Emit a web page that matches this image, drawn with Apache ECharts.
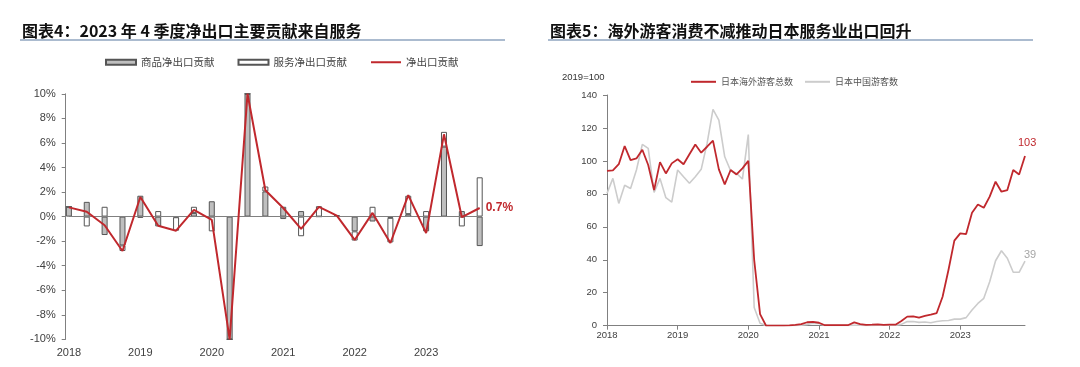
<!DOCTYPE html>
<html>
<head>
<meta charset="utf-8">
<script src="https://cdn.jsdelivr.net/npm/echarts@6/dist/echarts.min.js"></script>
<style>
html,body{margin:0;padding:0;background:#fff;}
#c{width:1080px;height:367px;}
</style>
</head>
<body>
<div id="c"></div>
<script>
// ---------- Chart 4: net export contributions (quarterly, %) ----------
const years = ['2018', '2019', '2020', '2021', '2022', '2023'];
const quarters = [];
years.forEach(y => ['Q1', 'Q2', 'Q3', 'Q4'].forEach(q => quarters.push(y + q)));

const goodsNet    = [0.8, 1.2, -1.5, -2.35, 1.7, -0.8, -0.05, 0.3, 1.25, -10, 10, 2.05,
                     0.8, 0.45, 0, 0.05, -1.2, -0.4, -0.1, 0.2, -1.2, 5.7, 0.45, -2.4];
const servicesNet = [0, -0.8, 0.8, -0.45, -0.1, 0.45, -1.1, 0.5, -1.2, 0, 0, 0.4,
                     -0.2, -1.6, 0.85, 0.05, -0.75, 0.8, -2.0, 1.5, 0.45, 1.2, -0.8, 3.2];
const netExports  = [0.75, 0.4, -0.7, -2.8, 1.6, -0.75, -1.15, 0.55, -0.27, -10, 10, 2.15,
                     0.7, -1.0, 0.8, 0.08, -1.9, 0.3, -2.15, 1.75, -1.35, 6.7, -0.05, 0.7];

// ---------- Chart 5: visitors to Japan (monthly, 2019=100) ----------
const months = [];
years.forEach(y => { for (let m = 1; m <= 12; m++) months.push(y + '-' + (m < 10 ? '0' + m : m)); });

const visitorsTotal = [
  94, 94.3, 98, 109, 100.5, 101.5, 106.8, 97.5, 82.3, 99.3, 92.4, 98.5,
  101, 98, 104, 110, 105, 108.6, 112.3, 94.9, 85.8, 94.5, 91.8, 95.5,
  100, 40, 7, 0.1, 0.1, 0.1, 0.1, 0.2, 0.5, 1.0, 2.1, 2.3,
  1.8, 0.3, 0.4, 0.4, 0.4, 0.4, 2.0, 1.0, 0.5, 0.6, 0.8, 0.5,
  0.7, 0.6, 2.8, 5.5, 5.7, 4.9, 5.9, 6.7, 7.7, 17.6, 33.8, 51.6,
  56, 55.6, 68.6, 73.6, 71.6, 78.3, 87.4, 81.3, 82.3, 94.5, 91.8, 103
];
const visitorsChina = [
  80.3, 89.4, 74.2, 85.2, 83.3, 94.5, 110, 107.6, 80.9, 89.4, 77.7, 75,
  94.5, 90.4, 86.4, 90.4, 94.9, 110.6, 131.3, 124.8, 102.5, 94, 92.4, 89,
  116, 11, 1.5, 0.1, 0.1, 0.1, 0.1, 0.1, 0.1, 0.3, 0.8, 1.5,
  1.3, 0.2, 0.2, 0.2, 0.2, 0.2, 0.3, 0.3, 0.2, 0.2, 0.3, 0.3,
  0.3, 0.3, 0.8, 2.5, 2.5, 2.0, 2.2, 1.8, 2.5, 3.0, 3.2, 4.0,
  4.0, 4.9, 9.5, 13.5, 16.6, 26.7, 39.4, 45.5, 40.9, 32.4, 32.4, 39.2
];

const RED = '#c0282d';
const GRAY_LINE = '#cccccc';
const NUM_FONT = '"Liberation Sans", Arial, sans-serif';
const CJK_FONT = '"Noto Sans CJK SC", sans-serif';
const NO_SYMBOL = { color: 'transparent', borderColor: 'transparent', borderWidth: 0, opacity: 0 };

const chart = echarts.init(document.getElementById('c'), null, { renderer: 'canvas' });

chart.setOption({
  animation: false,
  backgroundColor: '#ffffff',
  graphic: [
    { type: 'text', x: 22, y: 31,
      style: { text: '图表4：2023 年 4 季度净出口主要贡献来自服务', font: 'bold 16px ' + CJK_FONT, fill: '#111', verticalAlign: 'middle' } },
    { type: 'line', shape: { x1: 20, y1: 40, x2: 505, y2: 40 }, style: { stroke: '#abbbcf', lineWidth: 2 } },
    { type: 'text', x: 550, y: 31,
      style: { text: '图表5：海外游客消费不减推动日本服务业出口回升', font: 'bold 16px ' + CJK_FONT, fill: '#111', verticalAlign: 'middle' } },
    { type: 'line', shape: { x1: 548, y1: 40, x2: 1033, y2: 40 }, style: { stroke: '#abbbcf', lineWidth: 2 } },
    { type: 'text', x: 562, y: 77,
      style: { text: '2019=100', font: '9.5px ' + NUM_FONT, fill: '#333', verticalAlign: 'middle' } }
  ],
  legend: [
    {
      left: 105, top: 57, padding: 0, itemWidth: 30, itemHeight: 5, itemGap: 23,
      textStyle: { fontFamily: CJK_FONT, fontSize: 10.5, color: '#444' },
      data: [
        { name: '商品净出口贡献', icon: 'rect' },
        { name: '服务净出口贡献', icon: 'rect' },
        { name: '净出口贡献', itemStyle: NO_SYMBOL }
      ]
    },
    {
      left: 690, top: 77, padding: 0, itemWidth: 25, itemHeight: 12, itemGap: 11,
      textStyle: { fontFamily: CJK_FONT, fontSize: 9, color: '#555' },
      data: [
        { name: '日本海外游客总数', itemStyle: NO_SYMBOL },
        { name: '日本中国游客数', itemStyle: NO_SYMBOL }
      ]
    }
  ],
  grid: [
    { left: 68.9, right: 600.3, top: 93.8, bottom: 27.6 },
    { left: 607, right: 55, top: 95, bottom: 41.3 }
  ],
  xAxis: [
    {
      type: 'category', gridIndex: 0, data: quarters, boundaryGap: false,
      axisLine: { show: false }, axisTick: { show: false },
      axisLabel: {
        interval: (i) => i % 4 === 0, formatter: (v) => v.slice(0, 4),
        fontFamily: NUM_FONT, fontSize: 11, color: '#404040', margin: 8
      },
      splitLine: { show: false }
    },
    {
      type: 'category', gridIndex: 1, data: months, boundaryGap: false,
      axisLine: { show: true, onZero: false, lineStyle: { color: '#808080', width: 1 } },
      axisTick: { show: true, interval: 11, length: 4, lineStyle: { color: '#808080' } },
      axisLabel: {
        interval: 11, formatter: (v) => v.slice(0, 4),
        fontFamily: NUM_FONT, fontSize: 9.5, color: '#404040', margin: 5
      },
      splitLine: { show: false }
    }
  ],
  yAxis: [
    {
      type: 'value', gridIndex: 0, min: -10, max: 10, interval: 2, offset: 3.2,
      axisLine: { show: true, lineStyle: { color: '#808080', width: 1 } },
      axisTick: { show: true, length: 4, lineStyle: { color: '#808080' } },
      axisLabel: { formatter: '{value}%', fontFamily: NUM_FONT, fontSize: 11, color: '#404040', margin: 10 },
      splitLine: { show: false }
    },
    {
      type: 'value', gridIndex: 1, min: 0, max: 140, interval: 20,
      axisLine: { show: true, lineStyle: { color: '#808080', width: 1 } },
      axisTick: { show: true, length: 4, lineStyle: { color: '#808080' } },
      axisLabel: { fontFamily: NUM_FONT, fontSize: 9.5, color: '#404040', margin: 10 },
      splitLine: { show: false }
    }
  ],
  series: [
    {
      name: '商品净出口贡献', type: 'bar', xAxisIndex: 0, yAxisIndex: 0, stack: 'net',
      barWidth: 6, clip: false, data: goodsNet,
      itemStyle: { color: '#bfbfbf', borderColor: '#555', borderWidth: 1 },
      markLine: {
        silent: true, symbol: 'none', label: { show: false },
        lineStyle: { color: '#808080', width: 1, type: 'solid' },
        data: [{ yAxis: 0 }]
      }
    },
    {
      name: '服务净出口贡献', type: 'bar', xAxisIndex: 0, yAxisIndex: 0, stack: 'net',
      barWidth: 6, clip: false, data: servicesNet,
      itemStyle: { color: '#ffffff', borderColor: '#555', borderWidth: 1 }
    },
    {
      name: '净出口贡献', type: 'line', xAxisIndex: 0, yAxisIndex: 0, z: 5,
      symbol: 'none', data: netExports,
      itemStyle: { color: RED }, lineStyle: { color: RED, width: 2 },
      endLabel: {
        show: true, formatter: (p) => p.value.toFixed(1) + '%', distance: 6,
        color: RED, fontWeight: 'bold', fontSize: 12, fontFamily: NUM_FONT
      }
    },
    {
      name: '日本中国游客数', type: 'line', xAxisIndex: 1, yAxisIndex: 1, z: 3,
      symbol: 'none', data: visitorsChina,
      itemStyle: { color: GRAY_LINE }, lineStyle: { color: GRAY_LINE, width: 1.6 },
      endLabel: {
        show: true, distance: 5, offset: [-6, -6],
        formatter: (p) => Math.round(p.value), color: '#a6a6a6', fontSize: 11, fontFamily: NUM_FONT
      }
    },
    {
      name: '日本海外游客总数', type: 'line', xAxisIndex: 1, yAxisIndex: 1, z: 4,
      symbol: 'none', data: visitorsTotal,
      itemStyle: { color: RED }, lineStyle: { color: RED, width: 1.8 },
      endLabel: {
        show: true, distance: 5, offset: [-12, -13],
        formatter: (p) => Math.round(p.value), color: RED, fontSize: 11, fontFamily: NUM_FONT
      }
    }
  ]
});
</script>
</body>
</html>
